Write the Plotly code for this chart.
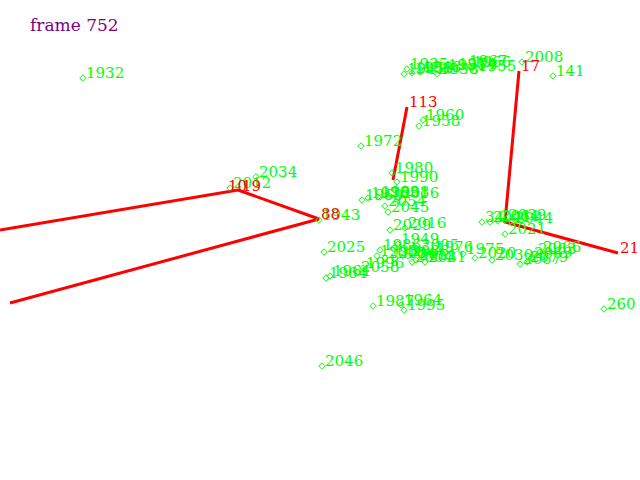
import plotly.graph_objects as go

# green labelled points (pixel-space positions)
green_x = [83, 404, 407, 412, 420, 437, 445, 455, 466, 470, 475, 522, 553,
           423, 419, 361, 392, 397, 362, 368, 378, 388, 398, 385, 388, 390,
           405, 398, 380, 377, 385, 395, 408, 416, 425, 412, 432, 418, 463,
           475, 492, 482, 490, 498, 505, 512, 505, 520, 527, 531, 535, 540,
           604, 373, 401, 404, 322, 326, 330, 358, 363, 324, 319, 256, 230]
green_y = [78, 74, 69, 73, 72, 74, 70, 69, 66, 67, 71, 62, 76,
           120, 126, 146, 173, 182, 200, 198, 197, 197, 198, 206, 212, 230,
           228, 244, 250, 256, 258, 258, 256, 260, 262, 262, 252, 250, 254,
           258, 260, 222, 222, 221, 220, 223, 234, 264, 262, 258, 254, 252,
           309, 306, 305, 310, 366, 278, 276, 272, 268, 252, 220, 177, 188]
green_labels = ["1932", "1941", "1935", "1953", "1948", "1938", "1951", "1954",
                "1967", "1966", "1955", "2008", "141",
                "1960", "1958", "1972", "1980", "1990", "1969", "1975", "1983",
                "1998", "2016", "2054", "2045", "2029",
                "2016", "1949", "1986", "1993", "2010", "2024", "2036", "2051",
                "2031", "2004", "1976", "2005", "1975",
                "2020", "2030", "34", "2041", "2064", "2039", "2044", "2021",
                "2067", "2079", "2069", "2063", "2066",
                "260", "1987", "1964", "1995", "2046", "1964", "1961", "2058",
                "1996", "2025", "1943", "2034", "2012"]

# red paths
red_a_x = [0, 238, 319, 10]
red_a_y = [230, 190, 219, 303]
red_b_x = [393, 407]
red_b_y = [180, 107]
red_c_x = [519, 505, 618]
red_c_y = [71, 222, 253]

# red node labels
red_lab_x = [226, 240, 319, 407, 519, 618]
red_lab_y = [191, 191, 219, 107, 71, 253]
red_labels = ["10", "19", "88", "113", "17", "21"]

FONT = "DejaVu Serif"

fig = go.Figure()

for xs, ys in [(red_a_x, red_a_y), (red_b_x, red_b_y), (red_c_x, red_c_y)]:
    fig.add_trace(go.Scatter(x=xs, y=ys, mode="lines",
                             line=dict(color="#ff0000", width=3),
                             hoverinfo="skip"))

fig.add_trace(go.Scatter(
    x=green_x, y=green_y, mode="markers",
    marker=dict(symbol="diamond-open", size=5, color="#00ff00",
                line=dict(color="#00ff00", width=1)),
))

# labels sit just right of each node, baseline near the node
for x, y, t in zip(green_x, green_y, green_labels):
    fig.add_annotation(x=x, y=y, text=t, showarrow=False,
                       xanchor="left", yanchor="bottom", xshift=1, yshift=-6,
                       font=dict(family=FONT, size=15, color="#00ff00"))
for x, y, t in zip(red_lab_x, red_lab_y, red_labels):
    fig.add_annotation(x=x, y=y, text=t, showarrow=False,
                       xanchor="left", yanchor="bottom", xshift=0, yshift=-6,
                       font=dict(family=FONT, size=15, color="#ff0000"))

fig.add_annotation(text="frame 752", xref="paper", yref="paper",
                   x=28 / 640, y=1 - 25 / 480, xanchor="left", yanchor="middle",
                   showarrow=False,
                   font=dict(family=FONT, size=17, color="#800080"))

fig.update_layout(
    width=640, height=480,
    margin=dict(l=0, r=0, t=0, b=0),
    paper_bgcolor="white", plot_bgcolor="white",
    showlegend=False,
    xaxis=dict(range=[0, 640], visible=False, fixedrange=True),
    yaxis=dict(range=[480, 0], visible=False, fixedrange=True),
)

fig.write_html("out.html", config={"displayModeBar": False},
               post_script="document.body.style.margin='0';")
